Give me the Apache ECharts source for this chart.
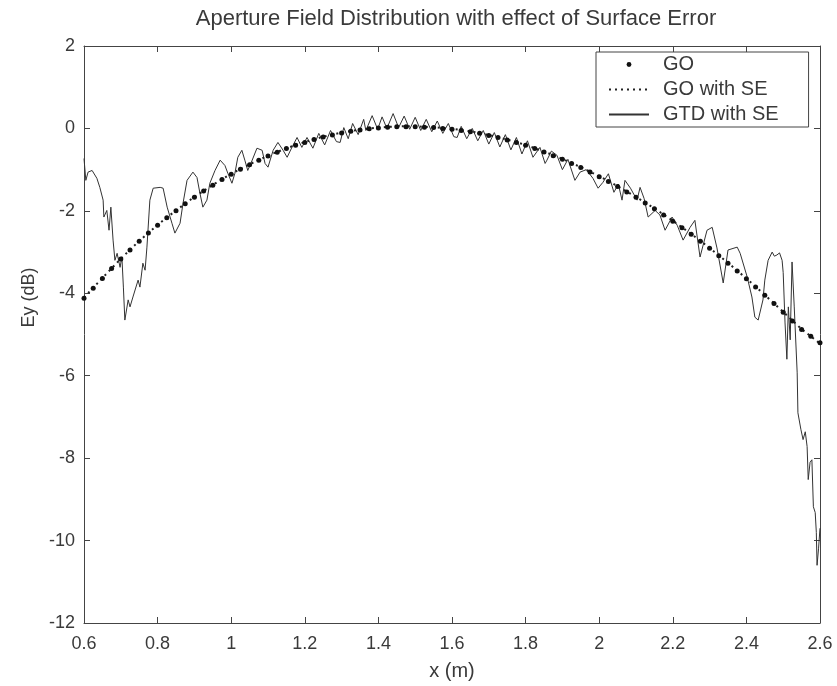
<!DOCTYPE html>
<html><head><meta charset="utf-8">
<script src="https://cdn.jsdelivr.net/npm/echarts@6/dist/echarts.min.js"></script>
<style>html,body{margin:0;padding:0;background:#fff}#c{width:837px;height:686px}</style>
</head><body><div id="c"></div>
<script>
// ---- Data ----
const titleText = 'Aperture Field Distribution with effect of Surface Error';
const xName = 'x (m)';
const yName = 'Ey (dB)';
const seriesNames = ['GO', 'GO with SE', 'GTD with SE'];
const xTicks = [0.6, 0.8, 1, 1.2, 1.4, 1.6, 1.8, 2, 2.2, 2.4, 2.6];
const yTicks = [2, 0, -2, -4, -6, -8, -10, -12];

// GO (dots)
const goX = [0.600,0.625,0.650,0.675,0.700,0.725,0.750,0.775,0.800,0.825,0.850,0.875,0.900,0.925,0.950,0.975,
  1.000,1.025,1.050,1.075,1.100,1.125,1.150,1.175,1.200,1.225,1.250,1.275,1.300,1.325,1.350,1.375,
  1.400,1.425,1.450,1.475,1.500,1.525,1.550,1.575,1.600,1.625,1.650,1.675,1.700,1.725,1.750,1.775,
  1.800,1.825,1.850,1.875,1.900,1.925,1.950,1.975,2.000,2.025,2.050,2.075,2.100,2.125,2.150,2.175,
  2.200,2.225,2.250,2.275,2.300,2.325,2.350,2.375,2.400,2.425,2.450,2.475,2.500,2.525,2.550,2.575,2.600];
const goY = [-4.12,-3.88,-3.64,-3.40,-3.17,-2.95,-2.74,-2.54,-2.35,-2.17,-2.00,-1.83,-1.67,-1.52,-1.38,-1.24,
  -1.11,-0.99,-0.88,-0.77,-0.67,-0.58,-0.49,-0.41,-0.34,-0.27,-0.21,-0.16,-0.11,-0.07,-0.04,-0.01,
  0.01,0.03,0.04,0.04,0.04,0.03,0.02,0.00,-0.02,-0.05,-0.08,-0.12,-0.17,-0.22,-0.28,-0.34,
  -0.41,-0.49,-0.57,-0.66,-0.75,-0.85,-0.95,-1.06,-1.17,-1.29,-1.41,-1.54,-1.67,-1.81,-1.95,-2.10,
  -2.25,-2.41,-2.57,-2.74,-2.91,-3.09,-3.27,-3.46,-3.65,-3.85,-4.05,-4.25,-4.46,-4.67,-4.88,-5.04,-5.20];

// GO with SE (dotted line)
const goseX = [0.60,0.65,0.70,0.75,0.80,0.85,0.90,0.95,1.00,1.05,1.10,1.15,1.20,1.25,1.30,1.35,1.40,1.45,1.50,1.55,
  1.60,1.65,1.70,1.75,1.80,1.85,1.90,1.95,2.00,2.05,2.10,2.15,2.20,2.25,2.30,2.35,2.40,2.45,2.50,2.55,2.60];
const goseY = [-4.10,-3.63,-3.16,-2.73,-2.34,-1.99,-1.66,-1.37,-1.10,-0.87,-0.66,-0.48,-0.33,-0.20,-0.10,-0.03,0.02,0.05,0.05,0.03,
  -0.01,-0.07,-0.16,-0.27,-0.40,-0.56,-0.74,-0.94,-1.16,-1.40,-1.66,-1.94,-2.24,-2.56,-2.90,-3.26,-3.64,-4.04,-4.45,-4.87,-5.22];

// GTD with SE (solid line)
const gtdX = [0.600,0.605,0.611,0.622,0.635,0.643,0.652,0.654,0.662,0.668,0.673,0.679,0.684,0.690,0.698,0.703,0.707,0.711,
  0.720,0.725,0.733,0.747,0.752,0.760,0.766,0.771,0.779,0.788,0.807,0.815,0.826,0.839,0.847,0.861,0.869,0.880,
  0.896,0.907,0.915,0.923,0.934,0.942,0.956,0.970,0.983,0.991,1.002,1.010,1.018,1.029,1.037,1.045,1.057,1.070,
  1.084,1.092,1.100,1.114,1.127,1.141,1.152,1.165,1.179,1.192,1.206,1.222,1.238,1.254,1.270,1.286,1.296,1.306,
  1.318,1.330,1.345,1.360,1.366,1.383,1.398,1.410,1.423,1.440,1.455,1.470,1.485,1.500,1.515,1.530,1.545,1.560,
  1.575,1.590,1.605,1.614,1.625,1.640,1.655,1.670,1.685,1.700,1.715,1.730,1.745,1.760,1.775,1.790,1.805,1.820,
  1.839,1.853,1.858,1.870,1.885,1.900,1.915,1.934,1.948,1.965,1.983,1.997,2.010,2.025,2.040,2.052,2.062,2.070,
  2.085,2.103,2.111,2.122,2.133,2.152,2.165,2.179,2.198,2.212,2.228,2.247,2.260,2.274,2.293,2.307,2.320,2.337,
  2.350,2.375,2.383,2.402,2.415,2.423,2.432,2.445,2.450,2.459,2.470,2.476,2.483,2.490,2.497,2.500,2.505,2.510,
  2.514,2.519,2.524,2.530,2.538,2.540,2.548,2.554,2.560,2.565,2.568,2.573,2.578,2.582,2.587,2.590,2.592,2.596,2.600];
const gtdY = [-0.73,-1.26,-1.06,-1.02,-1.21,-1.43,-1.74,-2.15,-1.99,-2.47,-1.91,-2.71,-3.20,-3.03,-3.37,-3.12,-3.85,-4.65,
  -4.16,-4.33,-4.09,-3.68,-3.85,-3.27,-3.44,-2.88,-1.74,-1.45,-1.43,-1.45,-1.91,-2.30,-2.54,-2.30,-1.82,-1.26,
  -1.06,-1.19,-1.57,-1.91,-1.74,-1.33,-1.02,-0.77,-0.90,-1.09,-1.33,-1.09,-0.70,-0.53,-0.77,-1.02,-0.77,-0.48,
  -0.53,-0.85,-0.94,-0.53,-0.34,-0.53,-0.70,-0.46,-0.22,-0.46,-0.22,-0.48,-0.12,-0.40,-0.05,-0.32,-0.34,0.02,
  -0.25,0.12,-0.15,0.22,-0.05,0.31,-0.02,0.28,0.00,0.36,0.02,0.30,-0.02,0.27,-0.05,0.22,-0.08,0.18,
  -0.12,0.12,-0.20,-0.22,0.05,-0.25,0.00,-0.30,-0.05,-0.38,-0.10,-0.45,-0.15,-0.52,-0.22,-0.62,-0.30,-0.70,
  -0.46,-0.85,-0.77,-0.55,-0.65,-1.00,-0.75,-1.26,-1.06,-1.00,-1.21,-1.45,-1.31,-1.10,-1.55,-1.35,-1.74,-1.26,
  -1.45,-1.74,-1.43,-1.70,-2.15,-1.99,-2.10,-2.47,-2.15,-2.35,-2.71,-2.40,-2.23,-3.12,-2.47,-2.40,-2.90,-3.75,
  -2.95,-2.88,-3.03,-3.60,-4.09,-4.58,-4.65,-4.16,-3.68,-3.20,-3.00,-3.10,-3.07,-3.02,-3.20,-3.50,-4.72,-5.60,
  -4.33,-5.13,-3.24,-4.33,-5.93,-6.90,-7.30,-7.55,-7.36,-7.72,-8.52,-8.10,-8.04,-9.18,-9.32,-9.80,-10.60,-10.20,-9.70];

// ---- Build chart ----
const zip = (xs, ys) => xs.map((x, i) => [x, ys[i]]);
const FONT = "'Liberation Sans', Arial, sans-serif";
const TXT = '#3a3a3a';
const AX = '#444';

const chart = echarts.init(document.getElementById('c'), null, {renderer: 'canvas'});
const xBase = {
  type: 'value', min: 0.6, max: 2.6, interval: 0.2,
  splitLine: {show: false},
  axisLine: {show: true, onZero: false, lineStyle: {color: AX, width: 1}},
  axisTick: {show: true, inside: true, length: 6, lineStyle: {color: AX}}
};
const yBase = {
  type: 'value', min: -12, max: 2, interval: 2,
  splitLine: {show: false},
  axisLine: {show: true, onZero: false, lineStyle: {color: AX, width: 1}},
  axisTick: {show: true, inside: true, length: 6, lineStyle: {color: AX}}
};

chart.setOption({
  animation: false,
  backgroundColor: '#fff',
  title: {
    text: titleText, left: 451, textAlign: 'center', top: 3,
    textStyle: {fontFamily: FONT, fontSize: 22, fontWeight: 'normal', color: TXT}
  },
  grid: {left: 84, right: 17, top: 46, bottom: 62, containLabel: false},
  legend: {
    data: [
      {name: seriesNames[0]},
      {name: seriesNames[1], itemStyle: {opacity: 0}},
      {name: seriesNames[2], itemStyle: {opacity: 0}}
    ],
    orient: 'vertical', left: 596, top: 52,
    backgroundColor: '#fff', borderColor: AX, borderWidth: 1,
    padding: [2, 30, 2, 12],
    itemWidth: 40, itemHeight: 6, itemGap: 4,
    textStyle: {fontFamily: FONT, fontSize: 20, color: TXT, lineHeight: 21, padding: [0, 0, 0, 9]}
  },
  xAxis: [
    Object.assign({}, xBase, {
      position: 'bottom',
      name: xName, nameLocation: 'middle', nameGap: 38,
      nameTextStyle: {fontFamily: FONT, fontSize: 20, color: TXT},
      axisLabel: {fontFamily: FONT, fontSize: 18, color: TXT, margin: 12,
        formatter: v => xTicks.includes(Math.round(v * 10) / 10) ? String(Math.round(v * 10) / 10) : ''}
    }),
    Object.assign({}, xBase, {position: 'top', axisLabel: {show: false}})
  ],
  yAxis: [
    Object.assign({}, yBase, {
      position: 'left',
      name: yName, nameLocation: 'middle', nameGap: 42, nameRotate: 90,
      nameTextStyle: {fontFamily: FONT, fontSize: 18, color: TXT, padding: [0, 0, 0, 74]},
      axisLabel: {fontFamily: FONT, fontSize: 18, color: TXT, margin: 9,
        formatter: v => yTicks.includes(v) ? String(v) : ''}
    }),
    Object.assign({}, yBase, {position: 'right', axisLabel: {show: false}})
  ],
  series: [
    {
      name: seriesNames[0], type: 'line', data: zip(goX, goY),
      symbol: 'circle', symbolSize: 5, showSymbol: true,
      lineStyle: {width: 0, opacity: 0},
      itemStyle: {color: '#111'},
      z: 4
    },
    {
      name: seriesNames[1], type: 'line', data: zip(goseX, goseY),
      symbol: 'none', smooth: false,
      lineStyle: {color: '#222', width: 2, type: [2, 4]},
      itemStyle: {color: '#222'},
      z: 3
    },
    {
      name: seriesNames[2], type: 'line', data: zip(gtdX, gtdY),
      symbol: 'none',
      lineStyle: {color: '#333', width: 1},
      itemStyle: {color: '#333'},
      z: 2
    }
  ]
});
</script>
</body></html>
